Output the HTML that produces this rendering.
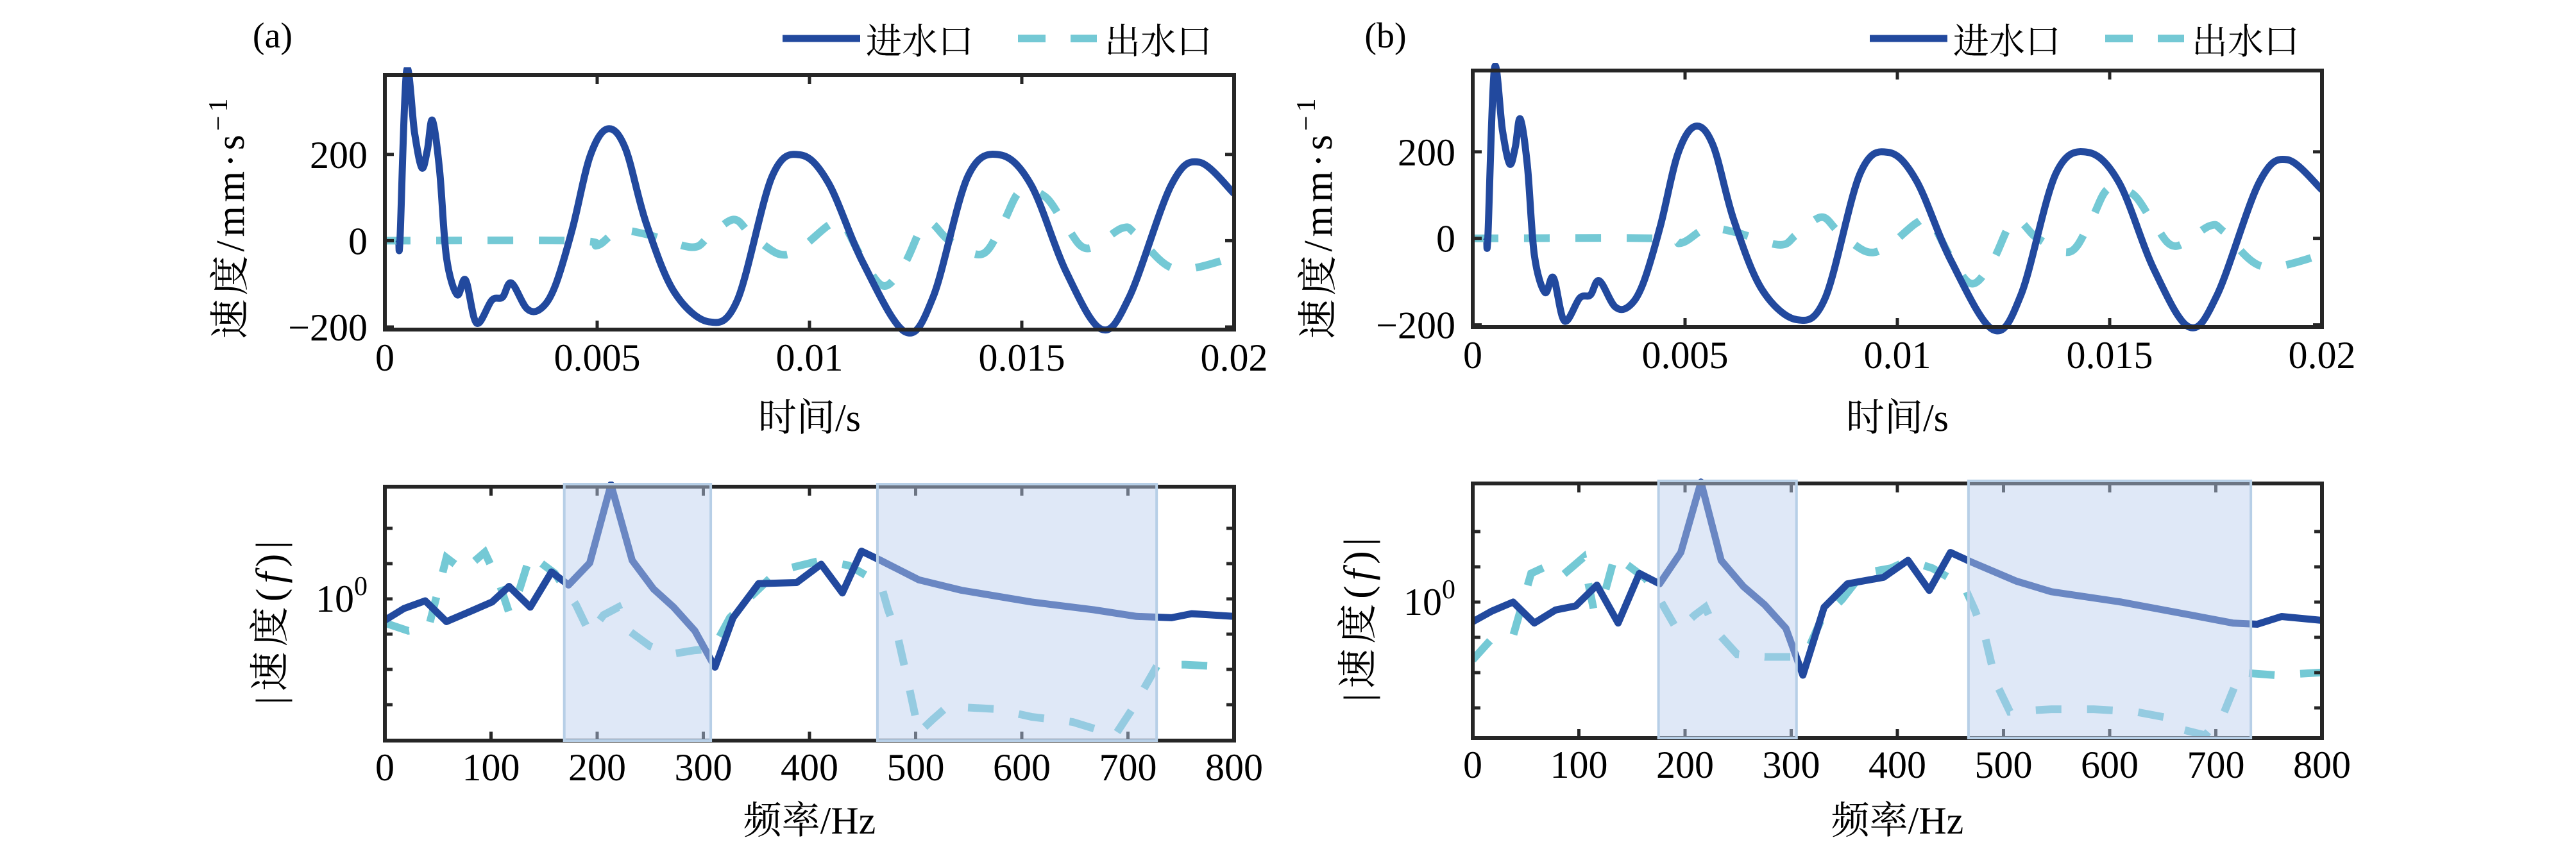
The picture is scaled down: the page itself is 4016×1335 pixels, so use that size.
<!DOCTYPE html>
<html><head><meta charset="utf-8">
<style>
html,body{margin:0;padding:0;background:#fff;}
svg{display:block;}
text{font-family:"Liberation Serif","Noto Serif CJK SC",serif;fill:#000;}
</style></head>
<body>
<svg id="fig" width="4016" height="1335" viewBox="0 0 4016 1335" xmlns="http://www.w3.org/2000/svg"></svg>
<script>
// ---- data: time-domain panel (a)
const tInA  = [0.00033,0.00036,0.00051,0.00070,0.00087,0.00100,0.00112,0.00129,0.00145,0.0017,0.0019,0.00216,0.00252,0.00277,0.00298,0.00335,0.00368,0.00401,0.00442,0.00483,0.00524,0.00566,0.00615,0.00681,0.00763,0.0083,0.00912,0.00978,0.01044,0.01126,0.01225,0.01291,0.01373,0.01448,0.01522,0.01604,0.01687,0.01753,0.01852,0.01918,0.02];
const vInA  = [-5,10,392,250,169,210,279,162,-38,-125,-91,-191,-138,-131,-98,-158,-157,-105,29,195,259,215,42,-118,-188,-138,149,199,135,-51,-211,-131,149,199,129,-71,-205,-131,129,182,109];
const tOutA = [0,0.0045,0.005,0.00549,0.00615,0.00722,0.00763,0.00821,0.00862,0.00928,0.00978,0.01044,0.01077,0.01126,0.01176,0.01225,0.01275,0.01330,0.01407,0.01456,0.01497,0.01555,0.01604,0.01654,0.01736,0.01769,0.0186,0.02];
const vOutA = [0,0,-11,22,15,-15,9,49,15,-31,-18,35,42,-45,-105,-51,42,0,-31,42,115,102,35,-18,29,15,-65,-38];
// ---- data: time-domain panel (b)
const tInB  = [0.00033,0.00036,0.00051,0.00070,0.00087,0.00100,0.00112,0.00129,0.00145,0.0017,0.0019,0.00216,0.00252,0.00277,0.00298,0.00335,0.00368,0.00401,0.00442,0.00483,0.00524,0.00566,0.00615,0.00681,0.00763,0.0083,0.00912,0.00978,0.01044,0.01126,0.01225,0.01291,0.01373,0.01448,0.01522,0.01604,0.01687,0.01753,0.01852,0.01918,0.02];
const vInB  = [-5,10,392,250,172,210,276,165,-38,-125,-91,-191,-138,-131,-98,-158,-157,-105,29,195,259,215,42,-118,-188,-138,149,199,135,-51,-211,-131,149,199,129,-71,-205,-131,129,182,112];
const tOutB = [0,0.0043,0.0049,0.00549,0.00615,0.00722,0.00763,0.00821,0.00862,0.00928,0.00978,0.01044,0.01077,0.01126,0.01176,0.01225,0.01275,0.01330,0.01407,0.01456,0.01497,0.01555,0.01604,0.01654,0.01736,0.01769,0.0186,0.02];
const vOutB = [0,0,-11,22,15,-15,9,49,15,-31,-18,35,42,-45,-105,-51,42,0,-31,42,115,102,35,-18,29,15,-65,-38];
const timeTicks = [0,0.005,0.01,0.015,0.02];
const timeTickLabels = ["0","0.005","0.01","0.015","0.02"];
const velTicks = [-200,0,200];
const velTickLabels = ["\u2212200","0","200"];
// ---- data: spectrum panels (log10 amplitude)
const fInA  = [0,18,38,58,81,101,117,137,157,173,193,213,233,253,272,292,311,328,352,388,411,431,449,467,503,543,609,668,708,741,760,800];
const aInA  = [-0.111,-0.05,-0.01,-0.118,-0.064,-0.016,0.065,-0.043,0.14,0.072,0.187,0.594,0.2,0.052,-0.043,-0.166,-0.355,-0.098,0.079,0.085,0.18,0.031,0.248,0.2,0.099,0.045,-0.016,-0.057,-0.091,-0.098,-0.077,-0.091];
const fOutA = [0,22,41,58,74,94,108,117,127,137,147,160,180,193,206,220,230,250,269,292,309,325,342,365,381,411,437,467,474,483,493,503,516,530,576,609,648,672,688,704,728,754,800];
const aOutA = [-0.125,-0.166,-0.152,0.214,0.147,0.242,0.079,-0.071,0.052,0.228,0.187,0.133,-0.03,-0.179,-0.084,-0.043,-0.166,-0.247,-0.288,-0.267,-0.26,-0.098,-0.003,0.119,0.16,0.2,0.174,0.079,-0.057,-0.193,-0.437,-0.695,-0.627,-0.559,-0.573,-0.613,-0.64,-0.681,-0.708,-0.573,-0.342,-0.342,-0.355];
const fInB  = [0,18,38,58,78,97,117,137,157,176,196,215,234,255,275,295,311,331,353,387,410,430,450,469,512,545,611,677,716,739,762,800];
const aInB  = [-0.102,-0.047,0,-0.109,-0.041,-0.02,0.088,-0.109,0.149,0.095,0.258,0.624,0.217,0.081,-0.014,-0.136,-0.38,-0.027,0.095,0.129,0.217,0.061,0.258,0.21,0.109,0.054,0,-0.068,-0.109,-0.115,-0.075,-0.095];
const fOutB = [0,18,38,55,71,84,104,114,124,134,143,163,176,193,209,219,229,249,275,302,315,328,348,367,394,410,433,463,473,483,493,506,545,585,624,657,670,690,707,723,756,800];
const aOutB = [-0.3,-0.19,-0.176,0.149,0.19,0.136,0.231,-0.041,0.041,0.244,0.204,0.122,0.014,-0.149,-0.068,-0.027,-0.149,-0.271,-0.285,-0.285,-0.258,-0.095,0.014,0.149,0.176,0.217,0.176,0.081,-0.041,-0.19,-0.421,-0.57,-0.557,-0.557,-0.57,-0.604,-0.665,-0.692,-0.584,-0.366,-0.38,-0.366];
const freqTicks = [0,100,200,300,400,500,600,700,800];
const bandsA = [[169,307],[464,727]];
const bandsB = [[175,305],[467,733]];

const NS = "http://www.w3.org/2000/svg";
const svg = document.getElementById('fig');
const C_IN = "#22499e", C_OUT = "#74c9d5";
function mk(tag, attrs, parent){
  const e = document.createElementNS(NS, tag);
  for (const k in attrs) e.setAttribute(k, attrs[k]);
  (parent||svg).appendChild(e);
  return e;
}
function txt(x,y,s,size,anchor,parent){
  const t = mk('text',{x:x,y:y,'font-size':size,'text-anchor':anchor||'middle'},parent);
  t.textContent = s; return t;
}
function pathD(xs, ys, sx, sy){
  return xs.map((v,i)=>(i?'L':'M')+sx(v).toFixed(1)+','+sy(ys[i]).toFixed(1)).join(' ');
}
function smoothD(xs, ys, sx, sy){
  const P = xs.map((v,i)=>[sx(v), sy(ys[i])]);
  let d = 'M'+P[0][0].toFixed(1)+','+P[0][1].toFixed(1);
  for (let i=0;i<P.length-1;i++){
    const p0 = P[Math.max(0,i-1)], p1 = P[i], p2 = P[i+1], p3 = P[Math.min(P.length-1,i+2)];
    const c1 = [p1[0]+(p2[0]-p0[0])/6, p1[1]+(p2[1]-p0[1])/6];
    const c2 = [p2[0]-(p3[0]-p1[0])/6, p2[1]-(p3[1]-p1[1])/6];
    d += ' C'+c1[0].toFixed(1)+','+c1[1].toFixed(1)+' '+c2[0].toFixed(1)+','+c2[1].toFixed(1)+' '+p2[0].toFixed(1)+','+p2[1].toFixed(1);
  }
  return d;
}

function timePanel(L,R,T,B,yTopV,yBotV,tin,vin,tout,vout,tag){
  const sx = t => L + (t/0.02)*(R-L);
  const sy = v => T + (yTopV - v)/(yTopV - yBotV)*(B-T);
  const g = mk('g',{});
  
  
  const cid = 'clipT'+tag;
  const cp = mk('clipPath',{id:cid},g); mk('rect',{x:L,y:T-12,width:R-L,height:B-T+24},cp);
  const po = mk('path',{d:smoothD(tout,vout,sx,sy),fill:'none',stroke:C_OUT,'stroke-width':12,'stroke-dasharray':'40 40','clip-path':'url(#'+cid+')'},g);
  
  
  const pi = mk('path',{d:smoothD(tin,vin,sx,sy),fill:'none',stroke:C_IN,'stroke-width':11,'stroke-linejoin':'round','clip-path':'url(#'+cid+')'},g);
  
  
  const box = mk('rect',{x:L,y:T,width:R-L,height:B-T,fill:'none',stroke:'#262626','stroke-width':6},g);
  
  
  timeTicks.forEach((t,i)=>{
    const x = sx(t);
    mk('line',{x1:x,y1:B,x2:x,y2:B-14,stroke:'#262626','stroke-width':5},g);
    mk('line',{x1:x,y1:T,x2:x,y2:T+14,stroke:'#262626','stroke-width':5},g);
    const lb = txt(x,B+64,timeTickLabels[i],60,'middle',g);
    
    
  });
  velTicks.forEach((v,i)=>{
    const y = sy(v);
    mk('line',{x1:L,y1:y,x2:L+14,y2:y,stroke:'#262626','stroke-width':5},g);
    mk('line',{x1:R,y1:y,x2:R-14,y2:y,stroke:'#262626','stroke-width':5},g);
    const lb = txt(L-27,y+21,velTickLabels[i],60,'end',g);
    
    
  });
  const xt = txt((L+R)/2,672,'时间/s',60,'middle',g);
  
  
  const yc = 338, xc = L-220;
  const yt = mk('text',{x:0,y:0,'font-size':62,'text-anchor':'middle','letter-spacing':'6',transform:'translate('+xc+','+yc+') rotate(-90)'},g);
  
  
  yt.innerHTML = '速度/mm·s<tspan dy="-26" font-size="42">−1</tspan>';
}

function freqPanel(L,R,T,B,y0,tin,ain,tout,aout,bands,tag){
  const dec = 300;
  const sx = f => L + (f/800)*(R-L);
  const sy = a => y0 - a*dec;
  const g = mk('g',{});
  
  
  const cid = 'clipF'+tag;
  const cp = mk('clipPath',{id:cid},g); mk('rect',{x:L,y:T-8,width:R-L,height:B-T+10},cp);
  const po = mk('path',{d:pathD(tout,aout,sx,sy),fill:'none',stroke:C_OUT,'stroke-width':12,'stroke-dasharray':'40 40','clip-path':'url(#'+cid+')'},g);
  
  
  const pi = mk('path',{d:pathD(tin,ain,sx,sy),fill:'none',stroke:C_IN,'stroke-width':11,'stroke-linejoin':'round','clip-path':'url(#'+cid+')'},g);
  
  
  const box = mk('rect',{x:L,y:T,width:R-L,height:B-T,fill:'none',stroke:'#262626','stroke-width':6},g);
  
  
  freqTicks.forEach(f=>{
    const x = sx(f);
    mk('line',{x1:x,y1:B,x2:x,y2:B-14,stroke:'#262626','stroke-width':5},g);
    mk('line',{x1:x,y1:T,x2:x,y2:T+14,stroke:'#262626','stroke-width':5},g);
    const lb = txt(x,B+62,String(f),60,'middle',g);
    
    
  });
  for (let k=-3;k<=2;k++){
    const y = y0 - k*55;
    mk('line',{x1:L,y1:y,x2:L+12,y2:y,stroke:'#262626','stroke-width':5},g);
    mk('line',{x1:R,y1:y,x2:R-12,y2:y,stroke:'#262626','stroke-width':5},g);
  }
  const yl = mk('text',{x:L-27,y:y0+20,'font-size':60,'text-anchor':'end'},g);
  
  
  yl.innerHTML = '10<tspan dy="-26" font-size="42">0</tspan>';
  bands.forEach(b=>{
    const r = mk('rect',{x:sx(b[0]),y:T-4,width:sx(b[1])-sx(b[0]),height:B-T+4,fill:'rgba(188,206,238,0.47)',stroke:'#b7cfe7','stroke-width':4},g);
    
    
  });
  const xt = txt((L+R)/2,1300,'频率/Hz',60,'middle',g);
  
  
  const yt = mk('text',{x:0,y:0,'font-size':62,'text-anchor':'middle','letter-spacing':'8',transform:'translate('+(L-158)+','+(T+(B-T)/2+10)+') rotate(-90)'},g);
  
  
  yt.innerHTML = '|速度(<tspan font-style="italic">f</tspan>)|';
}

function legend(x0, tag){
  const g = mk('g',{});
  
  
  const l1 = mk('line',{x1:x0,y1:60,x2:x0+121,y2:60,stroke:C_IN,'stroke-width':11},g);
  
  
  const t1 = txt(x0+130,84,'进水口',56,'start',g);
  
  
  const l2 = mk('line',{x1:x0+367,y1:60,x2:x0+490,y2:60,stroke:C_OUT,'stroke-width':12,'stroke-dasharray':'43 39'},g);
  
  
  const t2 = txt(x0+502,84,'出水口',56,'start',g);
  
  
}

timePanel(600,1924,117,514,384,-206,tInA,vInA,tOutA,vOutA,'a');
timePanel(2296,3620,110,510,388,-205,tInB,vInB,tOutB,vOutB,'b');
freqPanel(600,1924,759,1155,934,fInA,aInA,fOutA,aOutA,bandsA,'a');
freqPanel(2296,3620,754,1151,939,fInB,aInB,fOutB,aOutB,bandsB,'b');
legend(1220,'a');
legend(2915,'b');
const pa = txt(425,74,'(a)',56,'middle');


const pb = txt(2160,74,'(b)',56,'middle');


</script>
</body></html>
